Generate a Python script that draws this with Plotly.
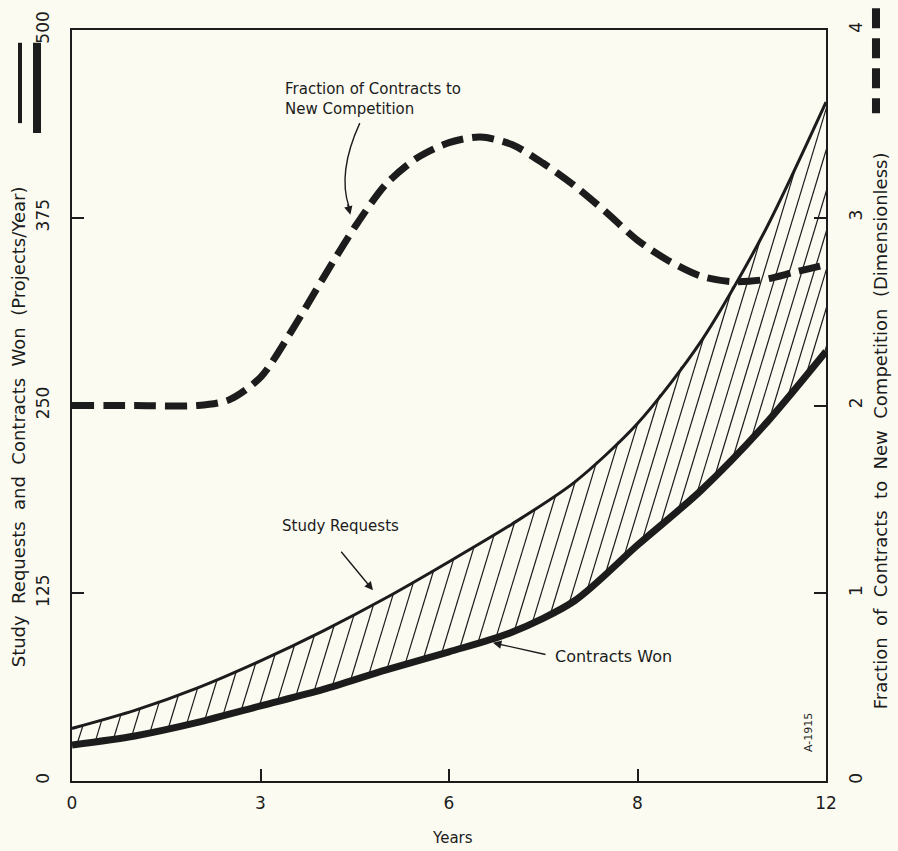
import numpy as np
import plotly.graph_objects as go

# ---------------- data ----------------
years = [0, 1, 2, 3, 4, 5, 6, 7, 8, 9, 10, 11, 12]
study_requests = [35, 47, 62, 80, 100, 122, 146, 171, 199, 238, 292, 364, 452]
contracts_won = [24, 30, 39, 50, 61, 74, 86, 99, 120, 157, 193, 236, 286]

years_frac = [0, 1, 2, 2.5, 3, 3.5, 4, 4.5, 5, 5.5, 6, 6.5, 7, 7.5, 8, 8.5, 9, 9.5,
              10, 10.5, 11, 11.5, 12]
fraction_new = [2.0, 2.0, 2.0, 2.03, 2.15, 2.40, 2.68, 2.95, 3.18, 3.32, 3.40, 3.43, 3.39,
                3.29, 3.17, 3.03, 2.88, 2.77, 2.69, 2.66, 2.67, 2.71, 2.75]

x_tickvals = [0, 3, 6, 9, 12]
x_ticktext = ["0", "3", "6", "8", "12"]
left_tickvals = [0, 125, 250, 375, 500]
right_tickvals = [0, 1, 2, 3, 4]
right_ticktext = ["0", "1", "2", "3", "4"]

INK = "#1c1c1c"
BG = "#fbfbf1"
FONT = "DejaVu Sans"
SP = "\u00a0"

# ---------------- hatching between the two curves ----------------
grid = np.linspace(0, 12, 2401)
up = np.interp(grid, years, study_requests)
K = 3.3 * (62.83 / 1.502)  # steepness of hatch strokes in data units
hx, hy = [], []
for xs0 in np.arange(0.08, 12.0, 0.29):
    y0 = float(np.interp(xs0, years, contracts_won))
    line = y0 + K * (grid - xs0)
    mask = (grid >= xs0) & (line >= up)
    if mask.any():
        i = int(np.argmax(mask))
        x1, y1 = float(grid[i]), float(up[i])
    else:
        x1 = 12.6
        y1 = y0 + K * (x1 - xs0)
    hx += [xs0, x1, None]
    hy += [y0, y1, None]

fig = go.Figure()
fig.add_trace(go.Scatter(x=hx, y=hy, mode="lines", line=dict(color=INK, width=1.2),
                         hoverinfo="skip", showlegend=False))
fig.add_trace(go.Scatter(x=years, y=study_requests, mode="lines", name="Study Requests",
                         line=dict(color=INK, width=3, shape="spline", smoothing=0.8)))
fig.add_trace(go.Scatter(x=years, y=contracts_won, mode="lines", name="Contracts Won",
                         line=dict(color=INK, width=7, shape="spline", smoothing=0.8)))
fig.add_trace(go.Scatter(x=years_frac, y=fraction_new, mode="lines", yaxis="y2",
                         name="Fraction of Contracts to New Competition",
                         line=dict(color=INK, width=7, dash="22px,9px", shape="spline", smoothing=0.8)))

axis_common = dict(showline=True, linecolor=INK, linewidth=2, showgrid=False, zeroline=False,
                   ticks="inside", ticklen=12, tickwidth=1.5, tickcolor=INK,
                   tickfont=dict(family=FONT, size=17, color=INK))

fig.update_layout(
    width=898, height=851, autosize=False,
    margin=dict(l=72, r=72, t=30, b=70),
    paper_bgcolor=BG, plot_bgcolor=BG,
    showlegend=False,
    font=dict(family=FONT, color=INK),
    xaxis=dict(range=[0, 12], tickvals=x_tickvals, ticktext=x_ticktext, mirror=True,
               ticklabelstandoff=6, **axis_common),
    yaxis=dict(range=[0, 500], tickvals=left_tickvals, tickangle=-90, mirror=True,
               ticklabelstandoff=14, **axis_common),
    yaxis2=dict(range=[0, 4], tickvals=right_tickvals, ticktext=right_ticktext, overlaying="y",
                side="right", tickangle=-90, ticklabelstandoff=14, **axis_common),
)

txt = dict(family=FONT, size=15, color=INK)
ttl = dict(family=FONT, size=18, color=INK)
G = SP * 2
left_title = G.join(["Study", "Requests", "and", "Contracts", "Won", "(Projects/Year)"])
right_title = G.join(["Fraction", "of", "Contracts", "to", "New", "Competition", "(Dimensionless)"])
annotations = [
    dict(x=3.36, y=454, xref="x", yref="y", text="Fraction of Contracts to<br>New Competition",
         showarrow=False, xanchor="left", yanchor="middle", align="left", font=txt),
    # arrowhead at the end of the curved leader line
    dict(x=4.43, y=377, xref="x", yref="y", text="", showarrow=True, ax=-3, ay=-12,
         arrowhead=2, arrowsize=1.2, arrowwidth=1.4, arrowcolor=INK),
    dict(x=4.27, y=170, xref="x", yref="y", text="Study Requests", showarrow=False,
         xanchor="center", yanchor="middle", font=txt),
    dict(x=4.79, y=127, xref="x", yref="y", text="", showarrow=True, ax=-33, ay=-40,
         arrowhead=2, arrowsize=1.2, arrowwidth=1.4, arrowcolor=INK),
    dict(x=7.65, y=83, xref="x", yref="y", text="Contracts" + SP + "Won", showarrow=False,
         xanchor="left", yanchor="middle", font=dict(family=FONT, size=16, color=INK)),
    dict(x=6.70, y=92, xref="x", yref="y", text="", showarrow=True, ax=54, ay=12,
         arrowhead=2, arrowsize=1.2, arrowwidth=1.4, arrowcolor=INK),
    dict(x=11.73, y=32, xref="x", yref="y", text="A-1915", showarrow=False, textangle=-90,
         font=dict(family=FONT, size=11, color=INK)),
    dict(x=-0.0716, y=0.471, xref="paper", yref="paper", text=left_title, showarrow=False,
         textangle=-90, xanchor="center", yanchor="middle", font=ttl),
    dict(x=1.0716, y=0.467, xref="paper", yref="paper", text=right_title, showarrow=False,
         textangle=-90, xanchor="center", yanchor="middle", font=ttl),
    dict(x=0.504, y=-0.076, xref="paper", yref="paper", text="Years", showarrow=False,
         xanchor="center", yanchor="middle", font=txt),
]
fig.update_layout(annotations=annotations)

shapes = [
    # axis keys beside the axes
    dict(type="line", xref="paper", yref="paper", x0=-0.069, x1=-0.069, y0=0.983, y1=0.876,
         line=dict(color=INK, width=4)),
    dict(type="line", xref="paper", yref="paper", x0=-0.0464, x1=-0.0464, y0=0.983, y1=0.863,
         line=dict(color=INK, width=8)),
    dict(type="line", xref="paper", yref="paper", x0=1.0663, x1=1.0663, y0=1.029, y1=0.889,
         line=dict(color=INK, width=8, dash="20px,10px")),
    # curved leader for the "Fraction of Contracts" label
    dict(type="path", xref="x", yref="y", path="M 4.58,438 Q 4.22,405 4.41,382",
         line=dict(color=INK, width=1.4)),
]
fig.update_layout(shapes=shapes)

fig.write_html("out.html", config={"displayModeBar": False},
               post_script="document.body.style.margin='0';document.body.style.overflow='hidden';")
